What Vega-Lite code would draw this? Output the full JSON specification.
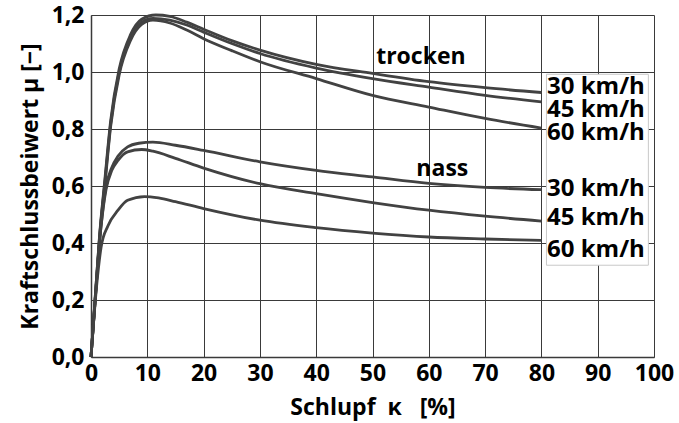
{
  "$schema": "https://vega.github.io/schema/vega-lite/v6.json",
  "width": 563,
  "height": 342,
  "autosize": {"type": "none"},
  "padding": {"left": 91, "top": 15, "right": 25, "bottom": 66},
  "background": "white",
  "config": {
    "view": {"stroke": null},
    "font": "Open Sans",
    "axis": {
      "labelFont": "Open Sans", "labelFontWeight": "bold", "labelFontSize": 23, "labelColor": "black",
      "titleFont": "Open Sans", "titleFontWeight": "bold", "titleFontSize": 23, "titleColor": "black",
      "gridColor": "#3a3a3a", "gridOpacity": 1, "gridWidth": 1,
      "domainColor": "#3a3a3a", "domainWidth": 1.5, "tickSize": 0, "labelFlush": false
    }
  },
  "datasets": {
    "curves": [
      {"s": "T30", "k": 0, "mu": 0}, {"s": "T30", "k": 1, "mu": 0.28}, {"s": "T30", "k": 1.5, "mu": 0.42}, {"s": "T30", "k": 2.5, "mu": 0.63}, {"s": "T30", "k": 3.5, "mu": 0.83}, {"s": "T30", "k": 5, "mu": 1.01}, {"s": "T30", "k": 7, "mu": 1.13}, {"s": "T30", "k": 9, "mu": 1.185}, {"s": "T30", "k": 11.5, "mu": 1.2}, {"s": "T30", "k": 14, "mu": 1.195}, {"s": "T30", "k": 17, "mu": 1.175}, {"s": "T30", "k": 20, "mu": 1.15}, {"s": "T30", "k": 25, "mu": 1.11}, {"s": "T30", "k": 30, "mu": 1.077}, {"s": "T30", "k": 40, "mu": 1.027}, {"s": "T30", "k": 50, "mu": 0.995}, {"s": "T30", "k": 60, "mu": 0.966}, {"s": "T30", "k": 70, "mu": 0.945}, {"s": "T30", "k": 80, "mu": 0.928},
      {"s": "T45", "k": 0, "mu": 0}, {"s": "T45", "k": 1, "mu": 0.28}, {"s": "T45", "k": 1.5, "mu": 0.415}, {"s": "T45", "k": 2.5, "mu": 0.62}, {"s": "T45", "k": 3.5, "mu": 0.82}, {"s": "T45", "k": 5, "mu": 1.0}, {"s": "T45", "k": 7, "mu": 1.12}, {"s": "T45", "k": 9, "mu": 1.175}, {"s": "T45", "k": 11, "mu": 1.188}, {"s": "T45", "k": 14, "mu": 1.182}, {"s": "T45", "k": 17, "mu": 1.165}, {"s": "T45", "k": 20, "mu": 1.14}, {"s": "T45", "k": 25, "mu": 1.1}, {"s": "T45", "k": 30, "mu": 1.065}, {"s": "T45", "k": 40, "mu": 1.014}, {"s": "T45", "k": 50, "mu": 0.977}, {"s": "T45", "k": 60, "mu": 0.947}, {"s": "T45", "k": 70, "mu": 0.918}, {"s": "T45", "k": 80, "mu": 0.895},
      {"s": "T60", "k": 0, "mu": 0}, {"s": "T60", "k": 1, "mu": 0.27}, {"s": "T60", "k": 1.5, "mu": 0.41}, {"s": "T60", "k": 2.5, "mu": 0.61}, {"s": "T60", "k": 3.5, "mu": 0.81}, {"s": "T60", "k": 5, "mu": 0.99}, {"s": "T60", "k": 7, "mu": 1.11}, {"s": "T60", "k": 9, "mu": 1.167}, {"s": "T60", "k": 11, "mu": 1.182}, {"s": "T60", "k": 14, "mu": 1.172}, {"s": "T60", "k": 17, "mu": 1.147}, {"s": "T60", "k": 20, "mu": 1.117}, {"s": "T60", "k": 25, "mu": 1.075}, {"s": "T60", "k": 30, "mu": 1.036}, {"s": "T60", "k": 40, "mu": 0.977}, {"s": "T60", "k": 50, "mu": 0.918}, {"s": "T60", "k": 60, "mu": 0.877}, {"s": "T60", "k": 70, "mu": 0.837}, {"s": "T60", "k": 80, "mu": 0.803},
      {"s": "N30", "k": 0, "mu": 0}, {"s": "N30", "k": 1, "mu": 0.27}, {"s": "N30", "k": 1.5, "mu": 0.4}, {"s": "N30", "k": 2, "mu": 0.5}, {"s": "N30", "k": 2.7, "mu": 0.6}, {"s": "N30", "k": 3.7, "mu": 0.665}, {"s": "N30", "k": 4.8, "mu": 0.705}, {"s": "N30", "k": 6.5, "mu": 0.737}, {"s": "N30", "k": 8.5, "mu": 0.75}, {"s": "N30", "k": 11, "mu": 0.754}, {"s": "N30", "k": 15, "mu": 0.743}, {"s": "N30", "k": 20, "mu": 0.725}, {"s": "N30", "k": 30, "mu": 0.685}, {"s": "N30", "k": 40, "mu": 0.655}, {"s": "N30", "k": 50, "mu": 0.632}, {"s": "N30", "k": 60, "mu": 0.609}, {"s": "N30", "k": 70, "mu": 0.595}, {"s": "N30", "k": 80, "mu": 0.587},
      {"s": "N45", "k": 0, "mu": 0}, {"s": "N45", "k": 1, "mu": 0.27}, {"s": "N45", "k": 1.5, "mu": 0.4}, {"s": "N45", "k": 2, "mu": 0.495}, {"s": "N45", "k": 2.7, "mu": 0.59}, {"s": "N45", "k": 3.7, "mu": 0.655}, {"s": "N45", "k": 4.8, "mu": 0.69}, {"s": "N45", "k": 6.5, "mu": 0.72}, {"s": "N45", "k": 9, "mu": 0.728}, {"s": "N45", "k": 11, "mu": 0.722}, {"s": "N45", "k": 15, "mu": 0.697}, {"s": "N45", "k": 20, "mu": 0.663}, {"s": "N45", "k": 30, "mu": 0.608}, {"s": "N45", "k": 40, "mu": 0.573}, {"s": "N45", "k": 50, "mu": 0.542}, {"s": "N45", "k": 60, "mu": 0.515}, {"s": "N45", "k": 70, "mu": 0.494}, {"s": "N45", "k": 80, "mu": 0.477},
      {"s": "N60", "k": 0, "mu": 0}, {"s": "N60", "k": 1, "mu": 0.25}, {"s": "N60", "k": 1.8, "mu": 0.386}, {"s": "N60", "k": 3, "mu": 0.46}, {"s": "N60", "k": 4.8, "mu": 0.515}, {"s": "N60", "k": 6.5, "mu": 0.55}, {"s": "N60", "k": 9.5, "mu": 0.563}, {"s": "N60", "k": 12, "mu": 0.558}, {"s": "N60", "k": 15, "mu": 0.545}, {"s": "N60", "k": 20, "mu": 0.521}, {"s": "N60", "k": 30, "mu": 0.48}, {"s": "N60", "k": 40, "mu": 0.454}, {"s": "N60", "k": 50, "mu": 0.435}, {"s": "N60", "k": 60, "mu": 0.421}, {"s": "N60", "k": 70, "mu": 0.414}, {"s": "N60", "k": 80, "mu": 0.409}
    ],
    "box": [{"k1": 80.9, "k2": 99.0, "m1": 0.322, "m2": 0.992}],
    "labels": [
      {"k": 81.0, "mu": 0.948, "t": "30 km/h"},
      {"k": 81.0, "mu": 0.867, "t": "45 km/h"},
      {"k": 81.0, "mu": 0.786, "t": "60 km/h"},
      {"k": 81.0, "mu": 0.591, "t": "30 km/h"},
      {"k": 81.0, "mu": 0.486, "t": "45 km/h"},
      {"k": 81.0, "mu": 0.374, "t": "60 km/h"}
    ],
    "titles": [
      {"k": 58.6, "mu": 1.053, "t": "trocken"},
      {"k": 62.4, "mu": 0.661, "t": "nass"}
    ]
  },
  "layer": [
    {
      "data": {"name": "curves"},
      "mark": {"type": "line", "interpolate": "monotone", "color": "#424242", "strokeWidth": 2.8},
      "encoding": {
        "x": {
          "field": "k", "type": "quantitative",
          "scale": {"domain": [0, 100], "nice": false},
          "axis": {"values": [0, 10, 20, 30, 40, 50, 60, 70, 80, 90, 100], "title": "Schlupf\u00a0\u00a0κ\u00a0\u00a0\u00a0[%]", "labelPadding": 5, "titlePadding": 11}
        },
        "y": {
          "field": "mu", "type": "quantitative",
          "scale": {"domain": [0, 1.2], "nice": false},
          "axis": {"values": [0, 0.2, 0.4, 0.6, 0.8, 1.0, 1.2], "labelExpr": "replace(format(datum.value, '.1f'), '.', ',')", "title": "Kraftschlussbeiwert\u00a0μ\u00a0[−]", "labelPadding": 7, "titlePadding": 9}
        },
        "detail": {"field": "s", "type": "nominal"}
      }
    },
    {
      "data": {"name": "box"},
      "mark": {"type": "rect", "fill": "white", "stroke": "#c8c8c8", "strokeWidth": 1},
      "encoding": {
        "x": {"field": "k1", "type": "quantitative"},
        "x2": {"field": "k2"},
        "y": {"field": "m1", "type": "quantitative"},
        "y2": {"field": "m2"}
      }
    },
    {
      "data": {"name": "labels"},
      "mark": {"type": "text", "align": "left", "baseline": "middle", "font": "Open Sans", "fontWeight": "bold", "fontSize": 24, "color": "black"},
      "encoding": {
        "x": {"field": "k", "type": "quantitative"},
        "y": {"field": "mu", "type": "quantitative"},
        "text": {"field": "t"}
      }
    },
    {
      "data": {"name": "titles"},
      "mark": {"type": "text", "align": "center", "baseline": "middle", "font": "Open Sans", "fontWeight": "bold", "fontSize": 23, "color": "black"},
      "encoding": {
        "x": {"field": "k", "type": "quantitative"},
        "y": {"field": "mu", "type": "quantitative"},
        "text": {"field": "t"}
      }
    }
  ]
}
